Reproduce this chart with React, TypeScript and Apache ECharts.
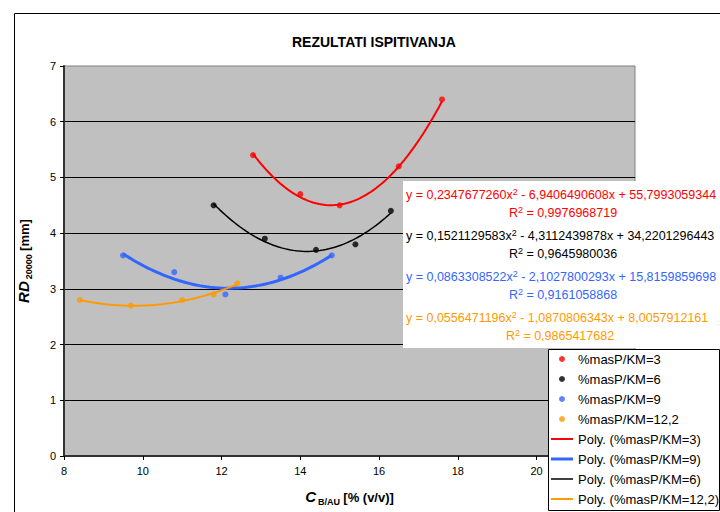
import React, { useEffect, useRef } from "react";
import * as echarts from "echarts";

const TITLE = "REZULTATI ISPITIVANJA";
const SERIES_NAMES = ["%masP/KM=3", "%masP/KM=6", "%masP/KM=9", "%masP/KM=12,2"];
const COLORS = ["#ff0000", "#000000", "#3366ff", "#ff9900"];

const redX = [12.8, 14.0, 15.0, 16.5, 17.6];
const redY = [5.4, 4.7, 4.5, 5.2, 6.4];
const blackX = [11.8, 13.1, 14.4, 15.4, 16.3];
const blackY = [4.5, 3.9, 3.7, 3.8, 4.4];
const blueX = [9.5, 10.8, 12.1, 13.5, 14.8];
const blueY = [3.6, 3.3, 2.9, 3.2, 3.6];
const orangeX = [8.4, 9.7, 11.0, 11.8, 12.4];
const orangeY = [2.8, 2.7, 2.8, 2.9, 3.1];

// Trendline coefficients [a, b, c] for y = a x^2 + b x + c, as printed on the chart
const redCoef = [0.234767726, -6.9406490608, 55.7993059344];
const blackCoef = [0.1521129583, -4.3112439878, 34.2201296443];
const blueCoef = [0.0863308522, -2.1027800293, 15.8159859698];
const orangeCoef = [0.0556471196, -1.0870806343, 8.0057912161];

const eqTexts = [
  ["0,2347677260", "6,9406490608", "55,7993059344", "0,9976968719"],
  ["0,1521129583", "4,3112439878", "34,2201296443", "0,9645980036"],
  ["0,0863308522", "2,1027800293", "15,8159859698", "0,9161058868"],
  ["0,0556471196", "1,0870806343", "8,0057912161", "0,9865417682"],
];

const X_TICKS_MIN = 8;
const X_MAX = 22.5;
const Y_MIN = 0;
const Y_MAX = 7;

function pairs(xs: number[], ys: number[]) {
  return xs.map((x, i) => [x, ys[i]]);
}

function trend(xs: number[], coef: number[]) {
  const lo = Math.min(...xs);
  const hi = Math.max(...xs);
  const n = 60;
  const out: number[][] = [];
  for (let i = 0; i <= n; i++) {
    const x = lo + ((hi - lo) * i) / n;
    out.push([x, coef[0] * x * x + coef[1] * x + coef[2]]);
  }
  return out;
}

const FONT = "'Liberation Sans', Arial, sans-serif";

export default function App() {
  const ref = useRef<HTMLDivElement>(null);
  useEffect(() => {
    if (!ref.current) return;
    const chart = echarts.init(ref.current, undefined, { renderer: "svg" });
    const scatterData = [pairs(redX, redY), pairs(blackX, blackY), pairs(blueX, blueY), pairs(orangeX, orangeY)];
    const trendData = [trend(redX, redCoef), trend(blackX, blackCoef), trend(blueX, blueCoef), trend(orangeX, orangeCoef)];
    const lineWidths = [2, 1.5, 3, 2];

    const series: any[] = [];
    SERIES_NAMES.forEach((n, i) => {
      series.push({
        name: "Poly. (" + n + ")",
        type: "line",
        data: trendData[i],
        symbol: "none",
        smooth: false,
        lineStyle: { color: COLORS[i], width: lineWidths[i] },
        itemStyle: { color: COLORS[i] },
        z: 2,
      });
    });
    SERIES_NAMES.forEach((n, i) => {
      series.push({
        name: n,
        type: "scatter",
        data: scatterData[i],
        symbol: "circle",
        symbolSize: 6,
        itemStyle: { color: COLORS[i] },
        z: 3,
      });
    });

    const graphics: any[] = [
      {
        type: "rect",
        shape: { x: 14.5, y: 13.5, width: 800, height: 600 },
        style: { fill: "none", stroke: "#000", lineWidth: 1 },
        z: 0,
        silent: true,
      },
      {
        type: "rect",
        shape: { x: 403, y: 181, width: 330, height: 167 },
        style: { fill: "#ffffff", stroke: "none" },
        z: 100,
      },
      {
        type: "rect",
        shape: { x: 548.5, y: 349.5, width: 171, height: 161 },
        style: { fill: "#ffffff", stroke: "#000", lineWidth: 1 },
        z: 100,
      },
    ];
    const eqY = [195, 236, 277, 318];
    const r2Cx = [563, 563, 563, 560];
    const EQ_FONT = 12.5;
    eqTexts.forEach((t, i) => {
      graphics.push({
        type: "text",
        x: 406,
        y: eqY[i],
        z: 101,
        style: {
          text: "y = " + t[0] + "x{sup|2} - " + t[1] + "x + " + t[2],
          fill: COLORS[i],
          font: EQ_FONT + "px " + FONT,
          textAlign: "left",
          textVerticalAlign: "middle",
          rich: { sup: { fontSize: 9, fontFamily: FONT, fill: COLORS[i], verticalAlign: "top", lineHeight: 16 } },
        },
      });
      graphics.push({
        type: "text",
        x: r2Cx[i],
        y: eqY[i] + 18,
        z: 101,
        style: {
          text: "R{sup|2} = " + t[3],
          fill: COLORS[i],
          font: EQ_FONT + "px " + FONT,
          textAlign: "center",
          textVerticalAlign: "middle",
          rich: { sup: { fontSize: 9, fontFamily: FONT, fill: COLORS[i], verticalAlign: "top", lineHeight: 16 } },
        },
      });
    });

    const lineIcon = (w: number) => "path://M0,0 L22,0 L22," + w + " L0," + w + " Z";

    chart.setOption({
      animation: false,
      backgroundColor: "#ffffff",
      title: {
        text: TITLE,
        left: 287,
        top: 30,
        textStyle: { fontSize: 14, fontWeight: "bold", color: "#000", fontFamily: FONT },
      },
      grid: {
        left: 64,
        top: 66,
        right: 85,
        bottom: 56,
        show: true,
        backgroundColor: "#c0c0c0",
        borderColor: "#808080",
        borderWidth: 1,
        containLabel: false,
      },
      xAxis: {
        type: "value",
        min: X_TICKS_MIN,
        max: X_MAX,
        interval: 2,
        axisLine: { show: true, lineStyle: { color: "#333", width: 2 } },
        axisTick: { show: true, length: 4, lineStyle: { color: "#000" } },
        axisLabel: {
          color: "#000",
          fontSize: 11,
          fontFamily: FONT,
          margin: 9,
          formatter: (v: number) => (v > 20 ? "" : String(v)),
        },
        splitLine: { show: false },
        name: "{ci|C}{sub|B/AU} {b|[% (v/v)]}",
        nameLocation: "middle",
        nameGap: 32,
        nameTextStyle: {
          rich: {
            ci: { fontSize: 15, fontWeight: "bold", fontStyle: "italic", fontFamily: FONT, color: "#000", lineHeight: 16, verticalAlign: "bottom" },
            sub: { fontSize: 9, fontWeight: "bold", fontFamily: FONT, color: "#000", lineHeight: 11, verticalAlign: "bottom", padding: [0, 0, -2, 2] },
            b: { fontSize: 13, fontWeight: "bold", fontFamily: FONT, color: "#000", lineHeight: 16, verticalAlign: "bottom" },
          },
        },
      },
      yAxis: {
        type: "value",
        min: Y_MIN,
        max: Y_MAX,
        interval: 1,
        axisLine: { show: true, lineStyle: { color: "#333", width: 2 } },
        axisTick: { show: true, length: 4, lineStyle: { color: "#000" } },
        axisLabel: { color: "#000", fontSize: 11, fontFamily: FONT, margin: 8 },
        splitLine: { show: true, showMaxLine: false, showMinLine: false, lineStyle: { color: "#000", width: 1 } },
        name: "{bi|RD}{sub|20000} {b|[mm]}",
        nameLocation: "middle",
        nameGap: 33,
        nameRotate: 90,
        nameTextStyle: {
          rich: {
            bi: { fontSize: 15, fontWeight: "bold", fontStyle: "italic", fontFamily: FONT, color: "#000", lineHeight: 16, verticalAlign: "bottom" },
            sub: { fontSize: 9, fontWeight: "bold", fontFamily: FONT, color: "#000", lineHeight: 11, verticalAlign: "bottom", padding: [0, 0, -2, 2] },
            b: { fontSize: 13, fontWeight: "bold", fontFamily: FONT, color: "#000", lineHeight: 16, verticalAlign: "bottom" },
          },
        },
      },
      legend: {
        orient: "vertical",
        left: 551,
        top: 352,
        itemWidth: 22,
        itemHeight: 6,
        itemGap: 6,
        z: 110,
        padding: 0,
        textStyle: { fontSize: 13, fontFamily: FONT, color: "#000", lineHeight: 14 },
        data: [
          { name: SERIES_NAMES[0] },
          { name: SERIES_NAMES[1] },
          { name: SERIES_NAMES[2] },
          { name: SERIES_NAMES[3] },
          { name: "Poly. (" + SERIES_NAMES[0] + ")", icon: lineIcon(lineWidths[0]) },
          { name: "Poly. (" + SERIES_NAMES[2] + ")", icon: lineIcon(lineWidths[2]) },
          { name: "Poly. (" + SERIES_NAMES[1] + ")", icon: lineIcon(lineWidths[1]) },
          { name: "Poly. (" + SERIES_NAMES[3] + ")", icon: lineIcon(lineWidths[3]) },
        ],
      },
      graphic: graphics,
      series,
    });
    return () => chart.dispose();
  }, []);
  return <div ref={ref} style={{ position: "fixed", left: 0, top: 0, width: 720, height: 512 }} />;
}
